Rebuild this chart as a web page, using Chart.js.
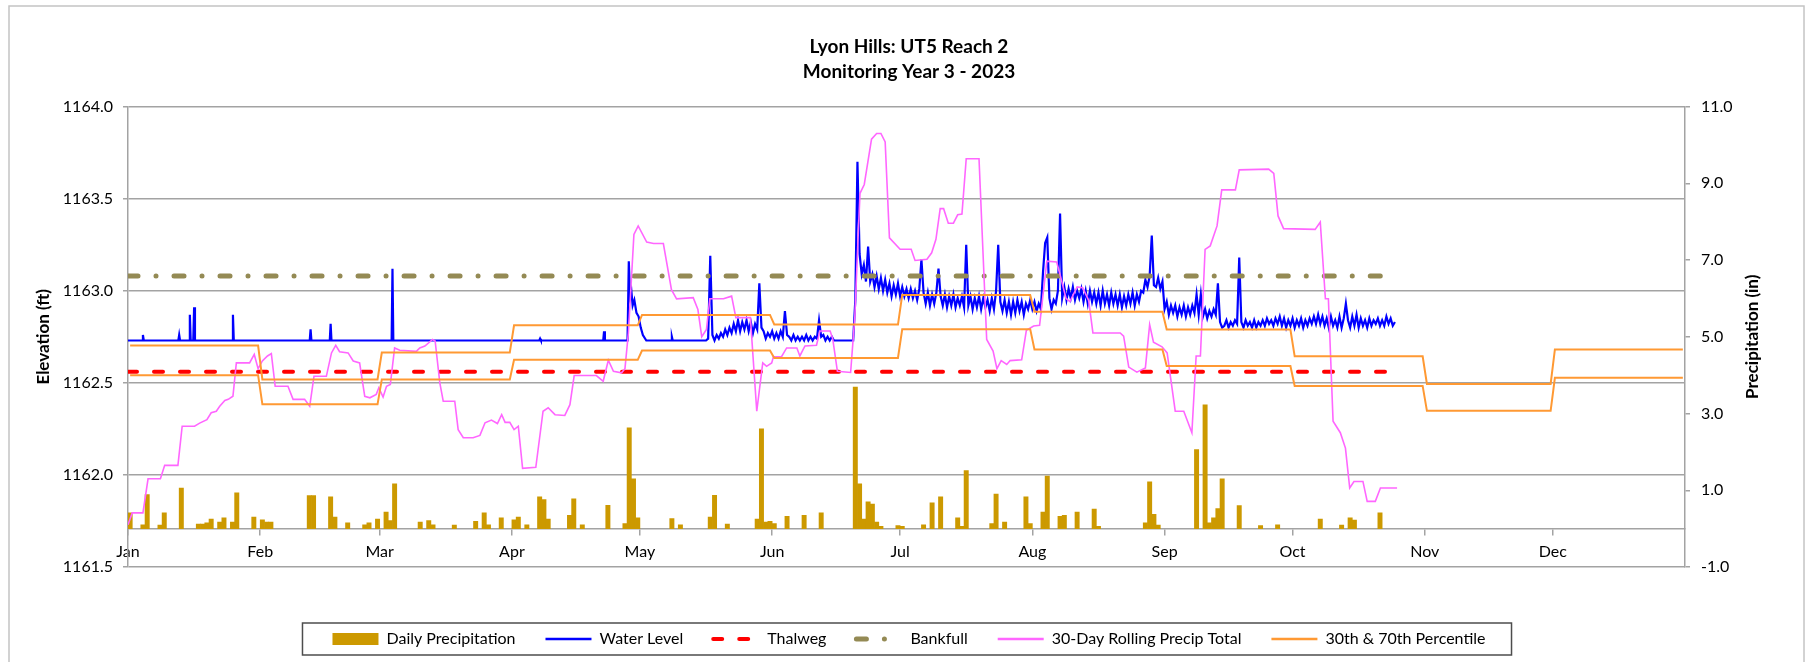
<!DOCTYPE html>
<html>
<head>
<meta charset="utf-8">
<title>Lyon Hills: UT5 Reach 2 - Monitoring Year 3 - 2023</title>
<script src="https://cdn.jsdelivr.net/npm/chart.js@4.4.1/dist/chart.umd.min.js"></script>
<style>
  html, body { margin: 0; padding: 0; background: #fff; }
  #wrap { position: relative; width: 1818px; height: 662px; }
</style>
</head>
<body>
<div id="wrap"><canvas id="gauge_chart"></canvas></div>
<script>
// AXIS LABELS (x axis is day of year, 0 = Jan 1)
const monthNames = ['Jan', 'Feb', 'Mar', 'Apr', 'May', 'Jun', 'Jul', 'Aug', 'Sep', 'Oct', 'Nov', 'Dec'];
const monthStarts = [0, 31, 59, 90, 120, 151, 181, 212, 243, 273, 304, 334, 365];

// DAILY PRECIPITATION (in), only the days with rain
const precipDays = [0, 3, 4, 7, 8, 12, 16, 17, 18, 19, 21, 22, 24, 25, 29, 31, 32, 33, 42, 43,
  47, 48, 51, 55, 56, 58, 60, 61, 62, 68, 70, 71, 76, 81, 83, 84, 87, 90, 91, 93,
  96, 97, 98, 103, 104, 106, 112, 116, 117, 118, 119, 127, 129, 136, 137, 140, 147, 148, 149, 150,
  151, 154, 158, 162, 170, 171, 172, 173, 174, 175, 176, 180, 181, 186, 188, 190, 194, 195, 196, 202,
  203, 205, 210, 211, 214, 215, 218, 219, 222, 226, 227, 238, 239, 240, 241, 250, 252, 253, 254, 255,
  256, 260, 265, 269, 279, 284, 286, 287, 293];
const precipVals = [0.41, 0.10, 0.89, 0.09, 0.41, 1.06, 0.12, 0.12, 0.15, 0.25, 0.17, 0.28, 0.17, 0.93, 0.30, 0.23, 0.17, 0.17, 0.86, 0.86,
  0.83, 0.30, 0.15, 0.10, 0.15, 0.25, 0.43, 0.21, 1.17, 0.17, 0.21, 0.10, 0.09, 0.19, 0.41, 0.10, 0.28, 0.23, 0.30, 0.10,
  0.83, 0.76, 0.25, 0.35, 0.78, 0.10, 0.61, 0.13, 2.63, 1.30, 0.28, 0.26, 0.10, 0.30, 0.87, 0.12, 0.25, 2.60, 0.17, 0.19,
  0.13, 0.32, 0.35, 0.41, 3.69, 1.17, 0.25, 0.70, 0.64, 0.17, 0.06, 0.08, 0.06, 0.10, 0.67, 0.83, 0.28, 0.06, 1.51, 0.13,
  0.90, 0.17, 0.83, 0.13, 0.43, 1.37, 0.32, 0.35, 0.43, 0.51, 0.06, 0.15, 1.22, 0.37, 0.09, 2.06, 3.23, 0.15, 0.28, 0.52,
  1.30, 0.60, 0.08, 0.10, 0.25, 0.09, 0.28, 0.22, 0.41];

// WATER LEVEL (ft) - flat baseline with storm spikes, Jan to mid May
const wlDays = [0, 3.3, 3.5, 3.7, 11.8, 12, 12.2, 14.3, 14.5, 14.7, 15.3, 15.5, 15.7, 24.4, 24.6, 24.8,
  42.6, 42.8, 43.0, 47.3, 47.5, 47.7, 61.8, 62, 62.2, 96.4, 96.6, 96.8, 111.4, 111.6, 111.8,
  117.1, 117.4, 117.7, 118.0, 118.3, 118.7, 119.2, 119.7, 120.2, 120.7, 121.5, 127.3, 127.5, 127.7, 135.5];
const wlVals = [1162.73, 1162.73, 1162.76, 1162.73, 1162.73, 1162.76, 1162.73, 1162.73, 1162.87, 1162.73, 1162.73, 1162.91, 1162.73, 1162.73, 1162.87, 1162.73,
  1162.73, 1162.79, 1162.73, 1162.73, 1162.82, 1162.73, 1162.73, 1163.12, 1162.73, 1162.73, 1162.74, 1162.73, 1162.73, 1162.78, 1162.73,
  1162.73, 1163.16, 1162.97, 1163.00, 1162.92, 1162.95, 1162.88, 1162.86, 1162.80, 1162.76, 1162.73, 1162.73, 1162.75, 1162.73, 1162.73];

// WATER LEVEL (ft) - twice daily readings from May 16 (day 136) on
const wlNoiseStart = 136;
const wlNoiseStep = 0.5;
const wlNoise = [
  1162.74, 1163.19, 1162.76, 1162.73, 1162.76, 1162.74, 1162.77, 1162.75, 1162.79, 1162.76,
  1162.80, 1162.77, 1162.82, 1162.78, 1162.84, 1162.78, 1162.83, 1162.79, 1162.84, 1162.78,
  1162.83, 1162.77, 1162.82, 1162.79, 1163.04, 1162.80, 1162.78, 1162.74, 1162.77, 1162.75,
  1162.78, 1162.74, 1162.77, 1162.74, 1162.78, 1162.75, 1162.89, 1162.76, 1162.75, 1162.73,
  1162.76, 1162.73, 1162.75, 1162.73, 1162.75, 1162.73, 1162.76, 1162.73, 1162.75, 1162.73,
  1162.75, 1162.74, 1162.84, 1162.75, 1162.76, 1162.73, 1162.75, 1162.73, 1162.75, 1162.73,
  1162.73, 1162.73, 1162.73, 1162.73, 1162.73, 1162.73, 1162.73, 1162.73, 1162.73, 1162.95,
  1163.70, 1163.20, 1163.09, 1163.14, 1163.05, 1163.24, 1163.05, 1163.09, 1163.02, 1163.08,
  1163.01, 1163.07, 1163.00, 1163.06, 1162.99, 1163.04, 1162.97, 1163.03, 1162.98, 1163.04,
  1162.97, 1163.02, 1162.97, 1163.01, 1162.96, 1163.01, 1162.96, 1163.00, 1162.95, 1163.01,
  1163.17, 1162.99, 1162.93, 1162.99, 1162.92, 1162.98, 1162.93, 1162.99, 1163.12, 1162.97,
  1162.92, 1162.98, 1162.91, 1162.97, 1162.92, 1162.98, 1162.91, 1162.96, 1162.92, 1162.97,
  1162.91, 1163.25, 1162.92, 1162.97, 1162.90, 1162.96, 1162.91, 1162.97, 1162.90, 1162.96,
  1162.91, 1162.95, 1162.89, 1162.96, 1162.90, 1163.00, 1163.25, 1162.94, 1162.89, 1162.95,
  1162.88, 1162.94, 1162.87, 1162.94, 1162.88, 1162.95, 1162.89, 1162.94, 1162.87, 1162.93,
  1162.90, 1162.95, 1162.90, 1162.94, 1162.89, 1162.93, 1162.90, 1163.10, 1163.26, 1163.29,
  1162.96, 1162.90, 1162.95, 1162.93, 1163.00, 1163.42, 1162.96, 1163.02, 1162.95, 1163.01,
  1162.96, 1163.02, 1162.95, 1163.00, 1162.96, 1163.01, 1162.94, 1163.00, 1162.93, 1163.00,
  1162.94, 1162.99, 1162.93, 1162.99, 1162.92, 1163.00, 1162.93, 1162.98, 1162.92, 1162.99,
  1162.93, 1162.98, 1162.92, 1162.98, 1162.91, 1162.97, 1162.92, 1162.98, 1162.93, 1162.99,
  1162.92, 1162.98, 1162.94, 1163.00, 1162.99, 1163.06, 1163.02, 1163.08, 1163.30, 1163.03,
  1163.02, 1163.07, 1163.01, 1163.05, 1162.90, 1162.94, 1162.87, 1162.92, 1162.88, 1162.92,
  1162.86, 1162.91, 1162.87, 1162.92, 1162.86, 1162.91, 1162.87, 1162.92, 1162.88, 1162.98,
  1162.87, 1162.98, 1162.86, 1162.90, 1162.85, 1162.89, 1162.86, 1162.90, 1162.87, 1163.04,
  1162.83, 1162.80, 1162.81, 1162.84, 1162.80, 1162.83, 1162.81, 1162.84, 1162.82, 1163.18,
  1162.83, 1162.80, 1162.84, 1162.81, 1162.83, 1162.80, 1162.84, 1162.80, 1162.83, 1162.81,
  1162.84, 1162.81, 1162.85, 1162.82, 1162.84, 1162.81, 1162.85, 1162.82, 1162.86, 1162.81,
  1162.85, 1162.80, 1162.84, 1162.81, 1162.85, 1162.80, 1162.84, 1162.81, 1162.85, 1162.80,
  1162.84, 1162.81, 1162.85, 1162.82, 1162.86, 1162.82, 1162.87, 1162.82, 1162.86, 1162.81,
  1162.85, 1162.80, 1162.86, 1162.81, 1162.84, 1162.80, 1162.86, 1162.80, 1162.85, 1162.93,
  1162.84, 1162.80, 1162.86, 1162.81, 1162.87, 1162.80, 1162.85, 1162.81, 1162.84, 1162.80,
  1162.85, 1162.81, 1162.84, 1162.82, 1162.85, 1162.81, 1162.84, 1162.81, 1162.86, 1162.82,
  1162.85, 1162.81, 1162.83];

// THALWEG / BANKFULL (ft), drawn over the gauge record
const thalwegElev = 1162.56;
const bankfullElev = 1163.08;
const gaugeEndDay = 296;

// 30-DAY ROLLING PRECIP TOTAL (in)
const rollDays = [0, 1, 3.5, 4.7, 7.6, 8.6, 11.7, 12.7, 15.6, 16.8,
  18.5, 19.5, 20.7, 21.5, 22.7, 23.5, 24.6, 25.4, 28.5, 29.6,
  30.5, 31.5, 32.7, 33.6, 34.5, 37.5, 38.7, 41.4, 42.6, 43.6,
  46.5, 47.7, 48.7, 49.6, 51.6, 52.8, 54.3, 55.5, 56.7, 58.2,
  58.8, 59.8, 60.6, 61.5, 62.5, 63.7, 67.6, 68.4, 69.6, 71.4,
  72, 73.1, 73.9, 76.6, 77.4, 78.6, 80.9, 82.5, 83.7, 85.2,
  86.6, 87.6, 88.4, 89.5, 90.5, 91.5, 92.5, 95.6, 97.3, 98.5,
  100.1, 102.4, 103.6, 104.6, 109.8, 111.4, 112.6, 113.8, 115.7, 116.5,
  117.3, 118.6, 119.6, 121.6, 123.2, 125.5, 127.4, 128.6, 132.5, 133.6,
  134.5, 135.6, 136.4, 139.6, 141.5, 142.5, 145.9, 147.4, 148.8, 149.7,
  150.9, 151.3, 153.2, 154.4, 156.8, 157.5, 158.7, 161.4, 162.2, 164.6,
  165.2, 166.3, 169.4, 170.4, 171.2, 171.6, 172.6, 174.3, 175.5, 176.5,
  177.5, 178.5, 181, 183.6, 184.5, 187.3, 188.4, 189.4, 190.4, 191.2,
  192.3, 193.5, 194.5, 195.5, 196.5, 199.5, 201.3, 202.8, 203.7, 204.7,
  206, 206.8, 209.5, 210.6, 212.3, 213.7, 215.4, 217.7, 218.5, 219.9,
  220.8, 222.5, 223.8, 225.2, 226.2, 232.6, 233.4, 234.6, 236.5, 238.5,
  239.5, 240.4, 242.4, 243.6, 245.5, 247.5, 249.4, 250.4, 251.4, 252.5,
  253.7, 255.3, 256.4, 259.6, 260.5, 267.4, 268.6, 269.6, 270.9, 278.3,
  279.5, 280.7, 281.4, 282.5, 284.2, 285.4, 286.4, 287.4, 289.5, 290.5,
  292.4, 293.6, 297.5];
const rollVals = [0.10, 0.41, 0.41, 1.30, 1.30, 1.65, 1.65, 2.67, 2.67, 2.75,
  2.84, 3.02, 3.06, 3.19, 3.34, 3.37, 3.45, 4.32, 4.32, 4.54,
  4.17, 4.37, 4.50, 4.56, 3.71, 3.71, 3.37, 3.37, 3.19, 3.97,
  3.97, 4.58, 4.78, 4.61, 4.58, 4.37, 4.32, 3.45, 3.41, 3.50,
  3.67, 3.43, 3.71, 3.76, 4.71, 4.65, 4.62, 4.71, 4.76, 4.93,
  4.89, 3.80, 3.32, 3.32, 2.58, 2.37, 2.37, 2.43, 2.76, 2.83,
  2.74, 2.97, 2.77, 2.77, 2.58, 2.67, 1.57, 1.60, 3.06, 3.15,
  2.97, 2.95, 3.23, 3.99, 3.99, 3.84, 4.39, 4.10, 4.06, 4.17,
  5.10, 7.67, 7.89, 7.47, 7.43, 7.43, 6.23, 5.99, 6.02, 5.71,
  5.00, 5.19, 5.99, 5.99, 6.06, 5.50, 5.50, 3.06, 4.32, 4.23,
  4.32, 4.48, 4.48, 4.71, 4.71, 4.50, 4.76, 4.78, 5.15, 5.15,
  4.95, 4.10, 4.07, 5.54, 7.71, 8.74, 8.97, 10.15, 10.30, 10.30,
  10.08, 7.58, 7.28, 7.28, 6.99, 7.02, 7.19, 7.54, 8.34, 8.34,
  7.96, 7.96, 8.18, 8.20, 9.64, 9.64, 4.93, 4.63, 4.17, 4.38,
  4.28, 4.38, 4.40, 5.17, 5.28, 5.30, 6.97, 6.95, 6.62, 6.00,
  5.92, 6.30, 6.28, 5.95, 5.10, 5.10, 5.02, 4.21, 4.08, 4.19,
  5.32, 4.86, 4.74, 4.58, 3.06, 3.06, 2.50, 4.50, 4.50, 7.28,
  7.37, 7.89, 8.83, 8.83, 9.35, 9.37, 9.26, 8.15, 7.82, 7.80,
  7.99, 5.99, 5.99, 2.80, 2.50, 2.10, 1.06, 1.23, 1.23, 0.71,
  0.71, 1.06, 1.06];

// 30th / 70th PERCENTILE of 30-day precip, one value per month (in)
const pct70 = [4.77, 3.89, 4.59, 5.30, 5.57, 5.32, 6.09, 5.65, 5.19, 4.49, 3.77, 4.67];
const pct30 = [4.00, 3.24, 3.89, 4.40, 4.64, 4.45, 5.20, 4.67, 4.24, 3.72, 3.07, 3.93];

// BUILD SERIES
const precipPoints = precipDays.map((d, i) => ({x: d + 0.5, y: precipVals[i]}));

const waterLevel = wlDays.map((d, i) => ({x: d, y: wlVals[i]}))
  .concat(wlNoise.map((v, i) => ({x: wlNoiseStart + i * wlNoiseStep, y: v})));

const rollPoints = rollDays.map((d, i) => ({x: d, y: rollVals[i]}));

// each month value held from the first to the last day of the month
function monthSteps(vals){
  let pts = [];
  vals.forEach((v, m) => {
    pts.push({x: monthStarts[m] + 0.5, y: v});
    pts.push({x: monthStarts[m + 1] - 0.5, y: v});
  });
  return pts;
}

const GRID = '#a3a3a3';
const FONT = "Lato, 'Open Sans', sans-serif";
Chart.defaults.font.family = FONT;
Chart.defaults.color = '#000';

// PLUGINS
const frame = {
  id: 'frame',
  beforeDraw(chart){
    const c = chart.ctx;
    c.save();
    c.fillStyle = '#fff';
    c.fillRect(0, 0, chart.width, chart.height);
    c.strokeStyle = '#c4c4c4';
    c.lineWidth = 1.5;
    c.strokeRect(9, 6, chart.width - 23, chart.height + 20);
    c.restore();
  }
};

const legendBorder = {
  id: 'legendBorder',
  afterDraw(chart){
    const boxes = chart.legend && chart.legend.legendHitBoxes;
    if(!boxes || !boxes.length) return;
    const left = Math.min(...boxes.map(b => b.left)) - 30;
    const right = Math.max(...boxes.map(b => b.left + b.width)) + 26;
    const top = boxes[0].top - 8;
    const c = chart.ctx;
    c.save();
    c.strokeStyle = '#4d4d4d';
    c.lineWidth = 1.5;
    c.strokeRect(left, top, right - left, boxes[0].height + 16);
    c.restore();
  }
};

// Excel writes the secondary axis title bottom-to-top
const rightTitle = {
  id: 'rightTitle',
  afterDraw(chart){
    const s = chart.scales.yP;
    const c = chart.ctx;
    c.save();
    c.translate(s.right - 65, (s.top + s.bottom) / 2);
    c.rotate(-Math.PI / 2);
    c.font = 'bold 17px ' + FONT;
    c.fillStyle = '#000';
    c.textAlign = 'center';
    c.textBaseline = 'middle';
    c.fillText('Precipitation (in)', 0, 0);
    c.restore();
  }
};

const ctx = document.getElementById('gauge_chart').getContext('2d');

new Chart(ctx, {
  type: 'line',
  data: {
    datasets: [{
      type: 'bar',
      label: 'Daily Precipitation',
      data: precipPoints,
      yAxisID: 'yP',
      backgroundColor: '#cc9900',
      borderColor: '#cc9900',
      borderWidth: 0,
      barThickness: 4.3,
      order: 6
    },{
      label: 'Water Level',
      data: waterLevel,
      yAxisID: 'y',
      borderColor: '#0000ff',
      backgroundColor: '#0000ff',
      borderWidth: 2.2,
      order: 5
    },{
      label: 'Thalweg',
      data: [{x: 0, y: thalwegElev}, {x: gaugeEndDay, y: thalwegElev}],
      yAxisID: 'y',
      borderColor: '#ff0000',
      backgroundColor: '#ff0000',
      borderWidth: 4,
      borderDash: [9, 17],
      borderCapStyle: 'round',
      order: 4
    },{
      label: 'Bankfull',
      data: [{x: 0, y: bankfullElev}, {x: gaugeEndDay, y: bankfullElev}],
      yAxisID: 'y',
      borderColor: '#948a54',
      backgroundColor: '#948a54',
      borderWidth: 5,
      borderDash: [10, 18, 0.01, 18],
      borderCapStyle: 'round',
      order: 3
    },{
      label: '30-Day Rolling Precip Total',
      data: rollPoints,
      yAxisID: 'yP',
      borderColor: '#ff66ff',
      backgroundColor: '#ff66ff',
      borderWidth: 1.6,
      order: 2
    },{
      label: '30th & 70th Percentile',
      data: monthSteps(pct70),
      yAxisID: 'yP',
      borderColor: '#ff9933',
      backgroundColor: '#ff9933',
      borderWidth: 2,
      order: 1
    },{
      label: '30th Percentile',
      data: monthSteps(pct30),
      yAxisID: 'yP',
      borderColor: '#ff9933',
      backgroundColor: '#ff9933',
      borderWidth: 2,
      order: 0
    }]
  },
  options: {
    responsive: true,
    maintainAspectRatio: false,
    animation: false,
    events: [],
    devicePixelRatio: 1,
    elements: {
      point: {radius: 0},
      line: {tension: 0, fill: false}
    },
    layout: {padding: {top: 0, bottom: 5, left: 0, right: 0}},
    scales: {
      x: {
        type: 'linear',
        min: 0,
        max: 365,
        offset: false,
        position: {yP: 0},
        grid: {drawOnChartArea: false, drawTicks: true, tickLength: 6, color: GRID, lineWidth: 1.5, offset: false},
        border: {color: GRID, width: 1.5},
        afterBuildTicks: (scale) => {
          scale.ticks = monthStarts.slice(0, 12).map(v => ({value: v}));
        },
        ticks: {
          autoSkip: false,
          maxRotation: 0,
          padding: 8,
          color: '#000',
          font: {size: 16},
          callback: (v) => monthNames[monthStarts.indexOf(v)]
        }
      },
      y: {
        type: 'linear',
        position: 'left',
        min: 1161.5,
        max: 1164.0,
        grid: {color: GRID, lineWidth: 1.5, tickLength: 5},
        border: {color: GRID, width: 1.5},
        ticks: {stepSize: 0.5, padding: 10, color: '#000', font: {size: 16}, callback: (v) => v.toFixed(1)},
        title: {
          display: true,
          text: 'Elevation (ft)',
          color: '#000',
          font: {size: 17, weight: 'bold'},
          padding: {top: 33, bottom: 0}
        },
        afterFit: (scale) => { scale.width = 128; }
      },
      yP: {
        type: 'linear',
        position: 'right',
        min: -1,
        max: 11,
        grid: {drawOnChartArea: false, color: GRID, lineWidth: 1.5, tickLength: 5},
        border: {color: GRID, width: 1.5},
        ticks: {stepSize: 2, padding: 11, color: '#000', font: {size: 16}, callback: (v) => v.toFixed(1)},
        afterFit: (scale) => { scale.width = 133; }
      }
    },
    plugins: {
      title: {
        display: true,
        text: ['Lyon Hills: UT5 Reach 2', 'Monitoring Year 3 - 2023'],
        color: '#000',
        font: {size: 19, weight: 'bold', lineHeight: 1.3},
        padding: {top: 34.6, bottom: 22.6}
      },
      legend: {
        position: 'bottom',
        title: {display: true, text: '', padding: {top: 22, bottom: 0}, font: {size: 10}},
        labels: {
          usePointStyle: true,
          pointStyleWidth: 46,
          boxHeight: 12,
          padding: 30,
          color: '#000',
          font: {size: 16},
          filter: (item) => item.datasetIndex !== 6,
          generateLabels: (chart) => chart.data.datasets.map((ds, i) => ({
            text: ds.label,
            datasetIndex: i,
            hidden: false,
            fontColor: '#000',
            fillStyle: ds.backgroundColor,
            strokeStyle: ds.borderColor,
            lineWidth: ds.type === 'bar' ? 0 : Math.max(ds.borderWidth, 2.5),
            lineDash: ds.borderDash || [],
            lineCap: ds.borderCapStyle || 'butt',
            pointStyle: ds.type === 'bar' ? 'rect' : 'line'
          }))
        }
      },
      tooltip: {enabled: false}
    }
  },
  plugins: [frame, legendBorder, rightTitle]
});
</script>
</body>
</html>
